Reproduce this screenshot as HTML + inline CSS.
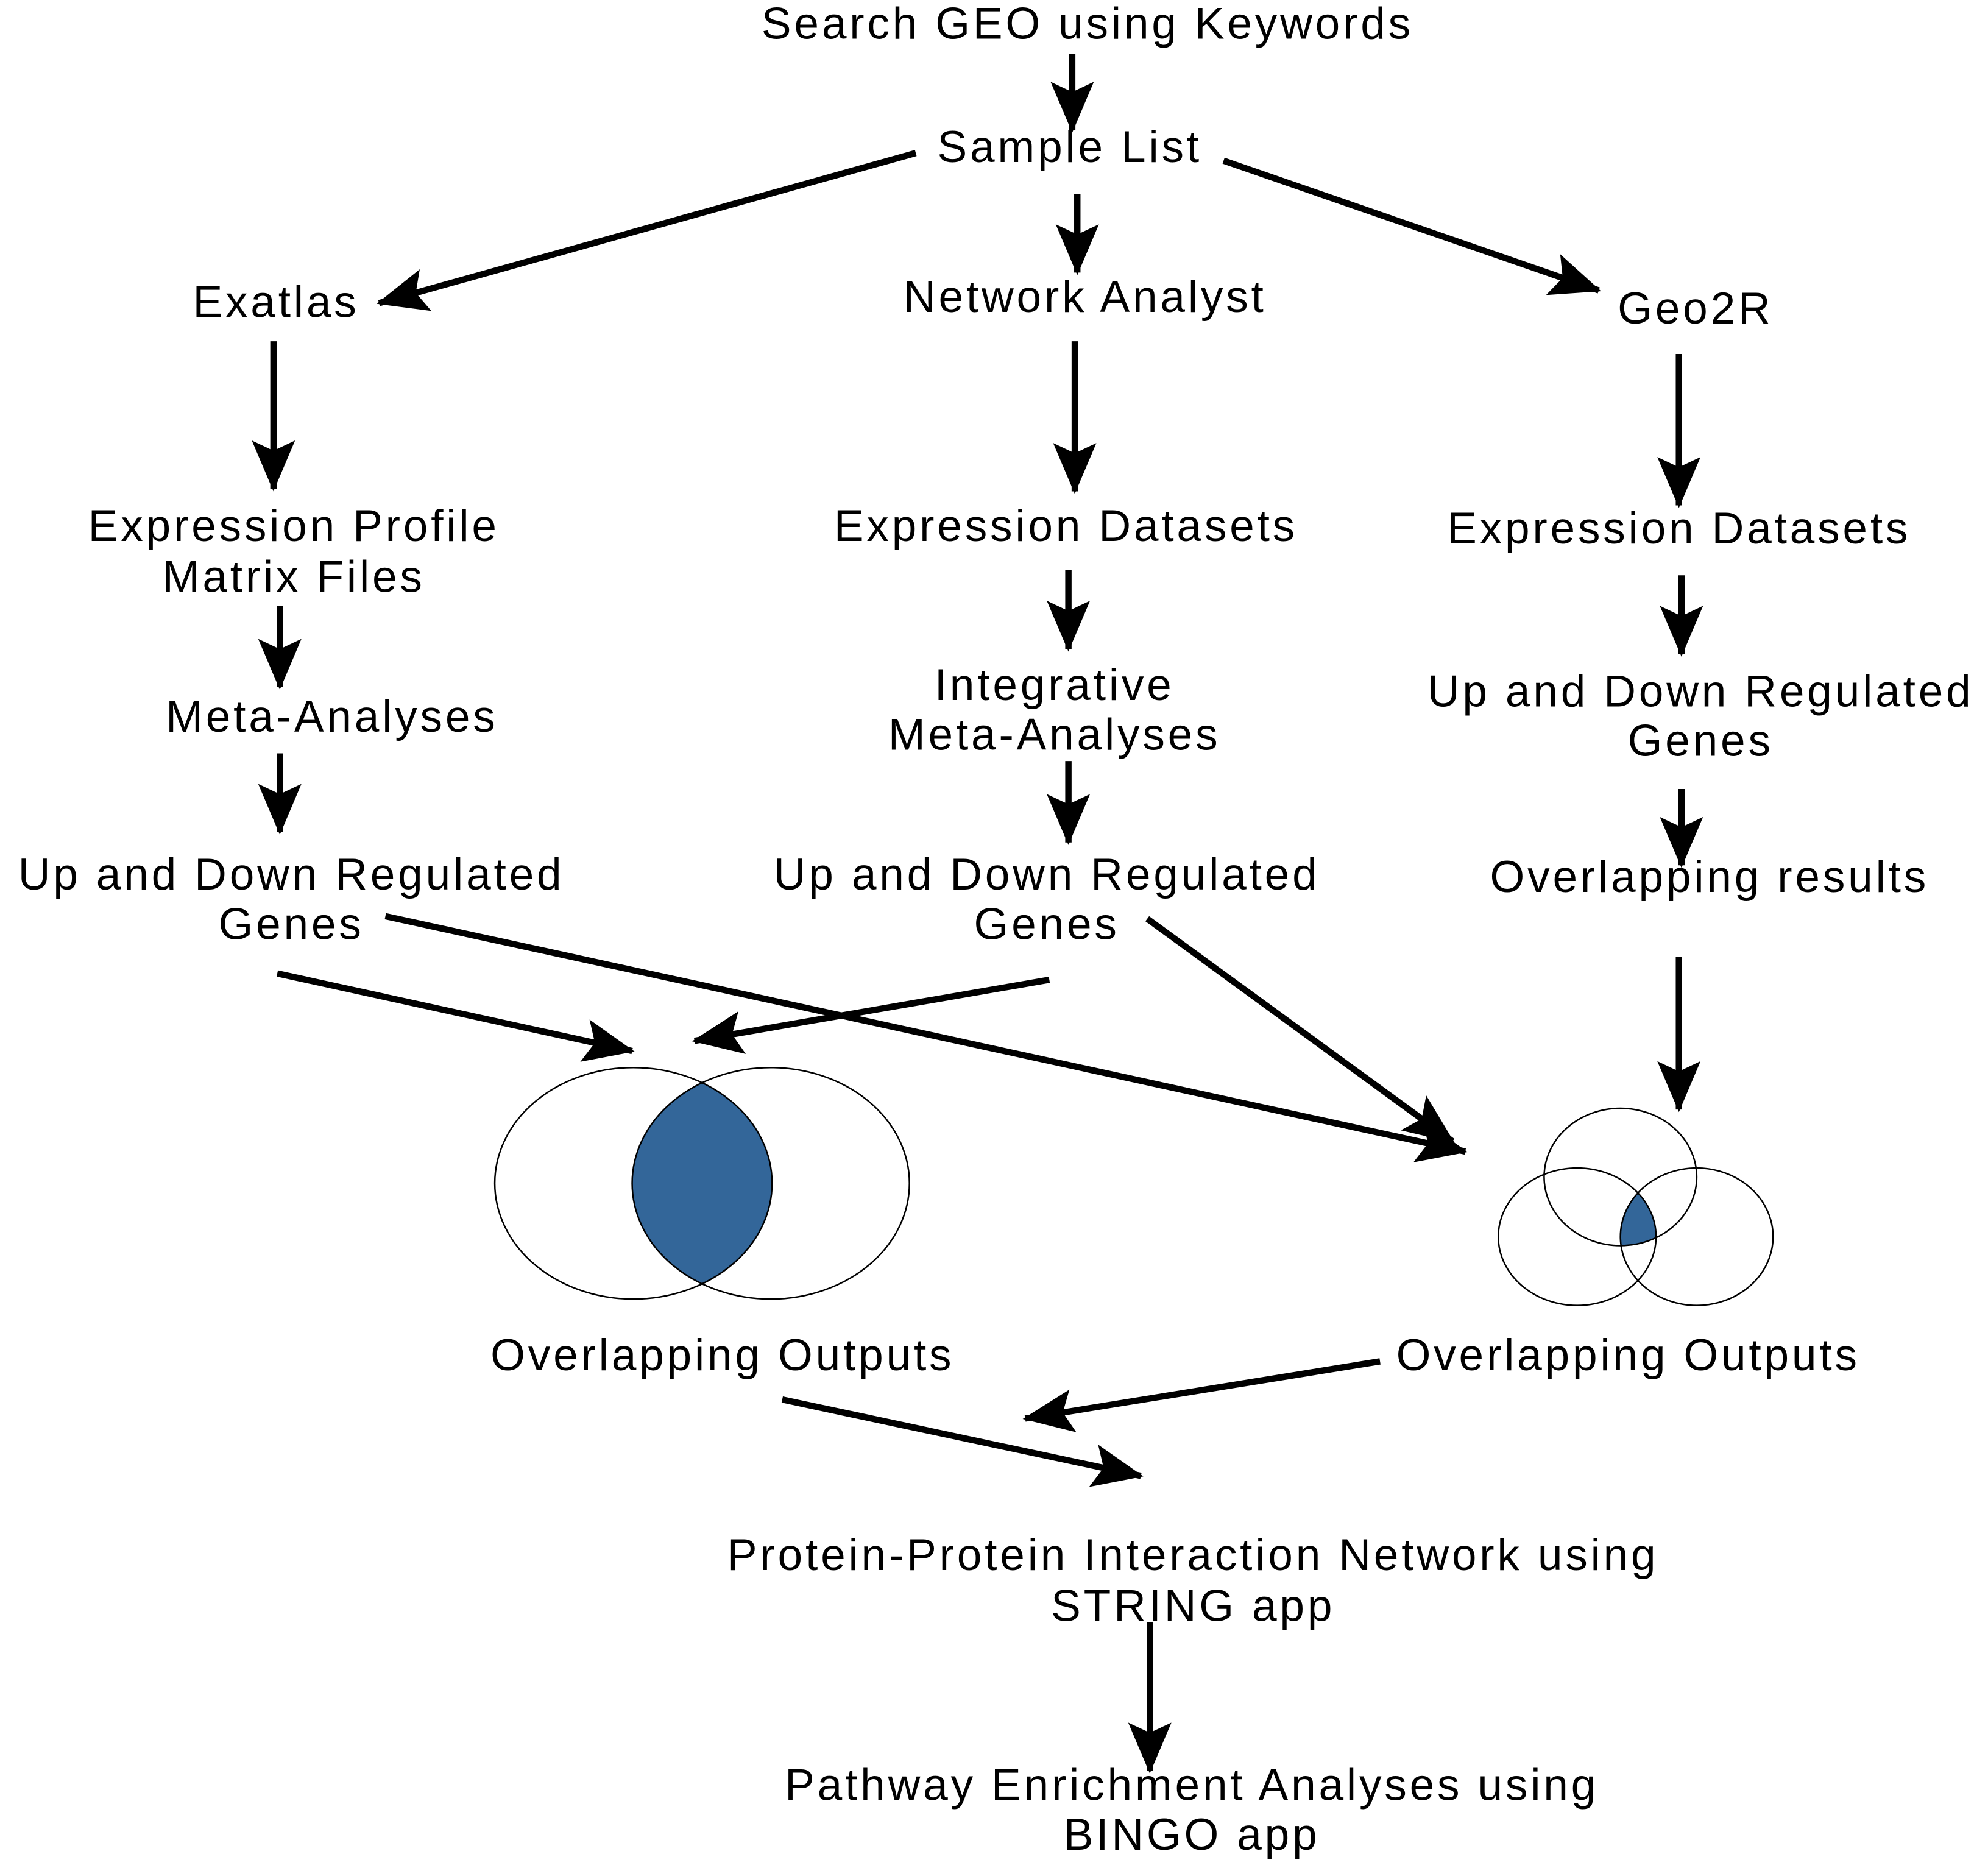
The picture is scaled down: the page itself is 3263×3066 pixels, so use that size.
<!DOCTYPE html>
<html><head><meta charset="utf-8"><style>
html,body{margin:0;padding:0;background:#fff;}
svg{display:block;}
text{font-family:"Liberation Sans",sans-serif;font-size:35px;fill:#000;text-anchor:middle;letter-spacing:2.3px;}
.a{stroke:#000;stroke-width:5;fill:none;marker-end:url(#ah);}
</style></head><body>
<svg width="3263" height="3066" viewBox="0 0 1563 1468" xmlns="http://www.w3.org/2000/svg">
<defs>
<marker id="ah" markerUnits="userSpaceOnUse" markerWidth="42" markerHeight="36" refX="38" refY="17" orient="auto">
<path d="M0,0 L40,17 L0,34 L8,17 Z" fill="#000"/>
</marker>
</defs>
<rect width="1563" height="1468" fill="#fff"/>
<g transform="translate(0,-3)">
<text x="855" y="33">Search GEO using Keywords</text>
<text x="841" y="130">Sample List</text>
<text x="217" y="252">Exatlas</text>
<text x="853" y="248">Network Analyst</text>
<text x="1333" y="257">Geo2R</text>
<text x="231" y="428">Expression Profile</text>
<text x="231" y="468">Matrix Files</text>
<text x="838" y="428">Expression Datasets</text>
<text x="1320" y="430">Expression Datasets</text>
<text x="261" y="578">Meta-Analyses</text>
<text x="829" y="553">Integrative</text>
<text x="829" y="592">Meta-Analyses</text>
<text x="1337" y="558">Up and Down Regulated</text>
<text x="1337" y="597">Genes</text>
<text x="229" y="702">Up and Down Regulated</text>
<text x="229" y="741">Genes</text>
<text x="823" y="702">Up and Down Regulated</text>
<text x="823" y="741">Genes</text>
<text x="1344" y="704">Overlapping results</text>
<text x="568" y="1080">Overlapping Outputs</text>
<text x="1280" y="1080">Overlapping Outputs</text>
<text x="938" y="1237">Protein-Protein Interaction Network using</text>
<text x="938" y="1277">STRING app</text>
<text x="937" y="1418">Pathway Enrichment Analyses using</text>
<text x="937" y="1457">BINGO app</text>
</g>
<line class="a" x1="843" y1="42" x2="843" y2="102"/>
<line class="a" x1="720" y1="120" x2="298" y2="238"/>
<line class="a" x1="847" y1="152" x2="847" y2="214"/>
<line class="a" x1="962" y1="126" x2="1257" y2="228"/>
<line class="a" x1="215" y1="268" x2="215" y2="384"/>
<line class="a" x1="845" y1="268" x2="845" y2="386"/>
<line class="a" x1="1320" y1="278" x2="1320" y2="397"/>
<line class="a" x1="220" y1="476" x2="220" y2="540"/>
<line class="a" x1="840" y1="448" x2="840" y2="510"/>
<line class="a" x1="1322" y1="452" x2="1322" y2="514"/>
<line class="a" x1="220" y1="592" x2="220" y2="654"/>
<line class="a" x1="840" y1="598" x2="840" y2="662"/>
<line class="a" x1="1322" y1="620" x2="1322" y2="680"/>
<line class="a" x1="218" y1="765" x2="497" y2="826"/>
<line class="a" x1="825" y1="770" x2="546" y2="818"/>
<line class="a" x1="303" y1="720" x2="1152" y2="905"/>
<line class="a" x1="902" y1="722" x2="1142" y2="897"/>
<line class="a" x1="1320" y1="752" x2="1320" y2="872"/>
<defs>
<clipPath id="cL"><ellipse cx="498" cy="930" rx="109" ry="91"/></clipPath>
<clipPath id="c1"><ellipse cx="1274" cy="925" rx="60" ry="54"/></clipPath>
<clipPath id="c2"><ellipse cx="1240" cy="972" rx="62" ry="54"/></clipPath>
</defs>
<ellipse cx="606" cy="930" rx="109" ry="91" fill="#336699" clip-path="url(#cL)"/>
<ellipse cx="498" cy="930" rx="109" ry="91" fill="none" stroke="#000" stroke-width="1.2"/>
<ellipse cx="606" cy="930" rx="109" ry="91" fill="none" stroke="#000" stroke-width="1.2"/>
<g clip-path="url(#c1)"><ellipse cx="1334" cy="972" rx="60" ry="54" fill="#336699" clip-path="url(#c2)"/></g>
<ellipse cx="1274" cy="925" rx="60" ry="54" fill="none" stroke="#000" stroke-width="1.2"/>
<ellipse cx="1240" cy="972" rx="62" ry="54" fill="none" stroke="#000" stroke-width="1.2"/>
<ellipse cx="1334" cy="972" rx="60" ry="54" fill="none" stroke="#000" stroke-width="1.2"/>
<line class="a" x1="1085" y1="1070" x2="806" y2="1115"/>
<line class="a" x1="615" y1="1100" x2="897" y2="1160"/>
<line class="a" x1="904" y1="1275" x2="904" y2="1392"/>
</svg>
</body></html>
